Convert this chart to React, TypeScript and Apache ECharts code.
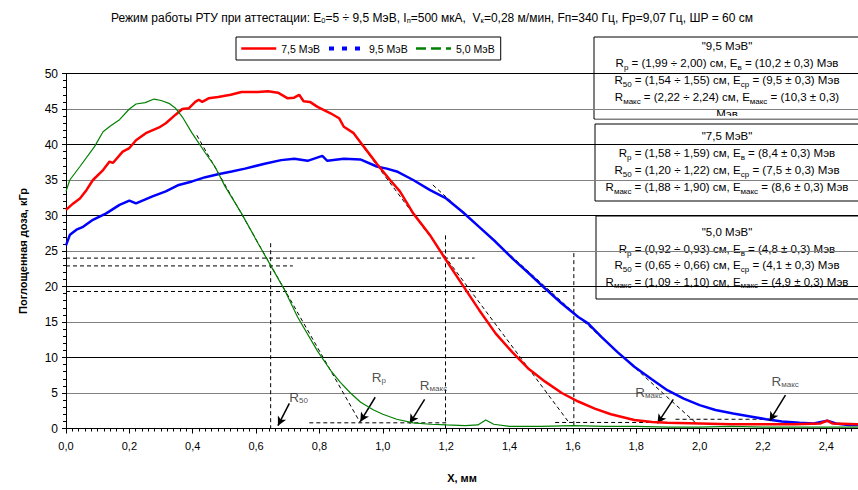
import React, { useEffect, useRef } from "react";
import * as echarts from "echarts";

const FONT = "'Liberation Sans', Arial, sans-serif";

const titleText =
  "Режим работы РТУ при аттестации: E{s|0}=5 ÷ 9,5 МэВ, I{s|п}=500 мкА,  V{s|к}=0,28 м/мин, Fп=340 Гц, Fр=9,07 Гц, ШР = 60 см";

const seriesNames = ["7,5 МэВ", "9,5 МэВ", "5,0 МэВ"];

// 7,5 MeV (red)
const red75: [number, number][] = [
  [0.0, 30.8], [0.023, 31.7], [0.044, 32.4], [0.065, 33.6], [0.085, 35.0], [0.117, 36.4],
  [0.1375, 37.6], [0.148, 37.4], [0.179, 39.0], [0.2, 39.5], [0.221, 40.6], [0.252, 41.6],
  [0.294, 42.4], [0.315, 43.0], [0.346, 44.2], [0.367, 45.0], [0.3875, 45.1], [0.408, 46.0],
  [0.419, 46.3], [0.43, 46.0], [0.45, 46.5], [0.48, 46.7], [0.52, 47.0], [0.554, 47.4],
  [0.606, 47.4], [0.6375, 47.5], [0.669, 47.3], [0.7, 46.5], [0.72, 46.6], [0.736, 47.0],
  [0.75, 46.1], [0.77, 46.0], [0.794, 45.3], [0.835, 44.4], [0.862, 43.7], [0.877, 42.5],
  [0.908, 41.6], [0.94, 39.7], [0.981, 37.3], [1.023, 35.0], [1.054, 33.4], [1.065, 32.6],
  [1.096, 30.3], [1.148, 27.3], [1.2, 23.7], [1.252, 20.2], [1.304, 16.7], [1.356, 13.4],
  [1.408, 10.8], [1.458, 8.5], [1.5125, 6.6], [1.565, 5.0], [1.617, 3.8], [1.669, 2.8],
  [1.72, 2.0], [1.794, 1.2], [1.85, 0.9], [1.898, 0.8], [2.0, 0.7], [2.1, 0.6], [2.2, 0.6],
  [2.3, 0.6], [2.38, 0.7], [2.403, 1.1], [2.42, 0.7], [2.5, 0.6],
];

// 9,5 MeV (blue)
const blue95: [number, number][] = [
  [0.0, 25.8], [0.0125, 27.3], [0.033, 28.0], [0.054, 28.4], [0.085, 29.4], [0.127, 30.3],
  [0.169, 31.5], [0.2, 32.1], [0.221, 31.7], [0.273, 32.7], [0.315, 33.4], [0.356, 34.3],
  [0.398, 34.8], [0.44, 35.4], [0.48, 35.8], [0.523, 36.2], [0.565, 36.6], [0.627, 37.3],
  [0.679, 37.8], [0.721, 38.0], [0.7625, 37.7], [0.809, 38.4], [0.825, 37.7], [0.877, 38.0],
  [0.929, 37.9], [0.981, 36.9], [1.0125, 36.6], [1.044, 36.2], [1.096, 35.0], [1.148, 33.6],
  [1.2, 32.4], [1.252, 30.5], [1.304, 28.4], [1.356, 26.3], [1.408, 24.0], [1.46, 21.9],
  [1.5125, 19.7], [1.565, 17.6], [1.617, 15.7], [1.648, 14.8], [1.69, 12.9], [1.74, 10.8],
  [1.794, 8.7], [1.85, 6.9], [1.898, 5.4], [1.95, 4.2], [2.0, 3.3], [2.05, 2.6], [2.106, 2.1],
  [2.16, 1.7], [2.21, 1.3], [2.26, 1.0], [2.315, 0.8], [2.36, 0.7], [2.403, 1.1], [2.43, 0.7],
  [2.47, 0.5], [2.5, 0.5],
];

// 5,0 MeV (green)
const green50: [number, number][] = [
  [0.0, 33.4], [0.012, 35.0], [0.044, 36.9], [0.09, 39.7], [0.117, 41.8], [0.14, 42.6],
  [0.169, 43.5], [0.2, 45.0], [0.221, 45.7], [0.25, 45.9], [0.278, 46.4], [0.3, 46.2],
  [0.325, 45.8], [0.346, 45.1], [0.367, 43.9], [0.398, 41.6], [0.44, 38.8], [0.47, 36.9],
  [0.502, 34.1], [0.554, 30.3], [0.606, 26.1], [0.648, 22.8], [0.69, 19.5], [0.731, 15.7],
  [0.794, 10.9], [0.835, 8.2], [0.866, 6.5], [0.898, 5.0], [0.93, 3.7], [0.971, 2.6],
  [1.0, 2.0], [1.044, 1.3], [1.096, 0.8], [1.15, 0.6], [1.2, 0.5], [1.26, 0.4], [1.3, 0.5],
  [1.325, 1.2], [1.35, 0.6], [1.4, 0.3], [1.5, 0.3], [1.6, 0.4], [1.7, 0.3], [1.8, 0.3],
  [1.9, 0.2], [2.0, 0.2], [2.1, 0.3], [2.2, 0.2], [2.3, 0.2], [2.4, 0.2], [2.5, 0.2],
];

// dashed construction lines (data coordinates)
const guideLines: [number, number][][] = [
  [[0, 24.0], [1.29, 24.0]],
  [[0, 22.9], [0.716, 22.9]],
  [[0, 19.3], [1.585, 19.3]],
  [[0.646, 26.1], [0.646, 0]],
  [[1.198, 27.2], [1.198, 0]],
  [[1.603, 24.7], [1.603, 0]],
  [[0.413, 41.3], [0.929, 0.8]],
  [[0.768, 0.8], [1.2, 0.8]],
  [[0.929, 40.2], [1.585, 1.0]],
  [[1.544, 0.85], [1.88, 0.85]],
  [[1.158, 34.3], [1.99, 0.7]],
  [[1.924, 1.3], [2.22, 1.3]],
];

// arrows: tail -> head
const arrows: [number, number][][] = [
  [[0.705, 3.55], [0.669, 0.4]],
  [[0.976, 4.4], [0.929, 0.96]],
  [[1.132, 4.1], [1.085, 0.73]],
  [[1.917, 4.1], [1.867, 0.73]],
  [[2.271, 4.7], [2.221, 1.06]],
];
const arrowLabelPos: [number, number][] = [
  [0.734, 4.4], [0.9875, 7.25], [1.16, 6.0], [1.84, 5.1], [2.27, 6.55],
];
const arrowLabelText = ["{r|R}{s|50}", "{r|R}{s|р}", "{r|R}{s|макс}", "{r|R}{s|макс}", "{r|R}{s|макс}"];

const boxTexts: string[][] = [
  [
    '"9,5 МэВ"',
    "R{s|р} = (1,99 ÷ 2,00) см, E{s|в} = (10,2 ± 0,3) Мэв",
    "R{s|50} = (1,54 ÷ 1,55) см, E{s|ср} = (9,5 ± 0,3) Мэв",
    "R{s|макс} = (2,22 ÷ 2,24) см, E{s|макс} = (10,3 ± 0,3)",
    "Мэв",
  ],
  [
    '"7,5 МэВ"',
    "R{s|р} = (1,58 ÷ 1,59) см, E{s|в} = (8,4 ± 0,3) Мэв",
    "R{s|50} = (1,20 ÷ 1,22) см, E{s|ср} = (7,5 ± 0,3) Мэв",
    "R{s|макс} = (1,88 ÷ 1,90) см, E{s|макс} = (8,6 ± 0,3) Мэв",
  ],
  [
    '"5,0 МэВ"',
    "R{s|р} = (0,92 ÷ 0,93) см, E{s|в} = (4,8 ± 0,3) Мэв",
    "R{s|50} = (0,65 ÷ 0,66) см, E{s|ср} = (4,1 ± 0,3) Мэв",
    "R{s|макс} = (1,09 ÷ 1,10) см, E{s|макс} = (4,9 ± 0,3) Мэв",
  ],
];
// box layout: [left, top, height, firstLineTop, lineHeight, clipFrom]
const boxLayout = [
  [594, 37, 82, 37.5, 17, 116],
  [595, 124, 77, 127.5, 17, 0],
  [596, 216, 83, 224.3, 16.4, 0],
];

export default function App() {
  const ref = useRef<HTMLDivElement>(null);
  useEffect(() => {
    if (!ref.current) return;
    const chart = echarts.init(ref.current, undefined, { renderer: "svg" });
    const subRich = { s: { fontSize: 8, fontFamily: FONT, color: "#000", verticalAlign: "bottom" } };

    const graphic: any[] = boxTexts.map((lines, i) => {
      const [bx, by, bh, ty, lh, clip] = boxLayout[i];
      const children: any[] = [
        {
          type: "rect",
          shape: { x: bx, y: by, width: 300, height: bh },
          style: { fill: "#fff", stroke: "#000", lineWidth: 1 },
        },
        {
          type: "text",
          x: 727,
          y: ty,
          style: {
            text: lines.join("\n"),
            align: "center",
            verticalAlign: "top",
            fontSize: 11.5,
            fontFamily: FONT,
            fill: "#000",
            lineHeight: lh,
            rich: subRich,
          },
        },
      ];
      if (clip) {
        children.push({
          type: "rect",
          shape: { x: bx + 1, y: clip, width: 298, height: by + bh - clip - 0.5 },
          style: { fill: "#fff" },
        });
      }
      return { type: "group", left: 0, top: 0, bounding: "raw", children };
    });

    const option: any = {
      animation: false,
      backgroundColor: "#fff",
      title: {
        text: titleText,
        left: 106,
        top: 7,
        textStyle: {
          fontSize: 12,
          fontWeight: "normal",
          color: "#000",
          fontFamily: FONT,
          rich: { s: { fontSize: 7.5, fontFamily: FONT, color: "#000", verticalAlign: "bottom" } },
        },
      },
      legend: {
        data: [
          { name: seriesNames[0], lineStyle: { type: "solid", width: 2.5 } },
          { name: seriesNames[1], lineStyle: { type: [5, 8], width: 4 } },
          { name: seriesNames[2], lineStyle: { type: [10, 5], width: 2.5 } },
        ],
        left: 236,
        top: 37,
        itemWidth: 35,
        itemHeight: 10,
        itemGap: 7,
        padding: [6, 6, 6, 4],
        borderColor: "#000",
        borderWidth: 1,
        backgroundColor: "#fff",
        itemStyle: { opacity: 0 },
        textStyle: { fontSize: 10.5, color: "#000", fontFamily: FONT },
      },
      grid: { left: 66, right: -8, top: 73.5, bottom: 61.5 },
      xAxis: {
        type: "value",
        min: 0,
        max: 2.5,
        interval: 0.2,
        name: "X, мм",
        nameLocation: "middle",
        nameGap: 44,
        nameTextStyle: { fontSize: 11, fontWeight: "bold", color: "#000", fontFamily: FONT },
        axisLine: { lineStyle: { color: "#000", width: 1 } },
        axisTick: { show: true, length: 5, lineStyle: { color: "#000" } },
        minorTick: { show: true, splitNumber: 10, length: 3, lineStyle: { color: "#000" } },
        axisLabel: {
          fontSize: 11,
          color: "#000",
          fontFamily: FONT,
          margin: 12,
          showMaxLabel: false,
          formatter: (v: number) => v.toFixed(1).replace(".", ","),
        },
        splitLine: { show: false },
      },
      yAxis: {
        type: "value",
        min: 0,
        max: 50,
        interval: 5,
        name: "Поглощенная доза, кГр",
        nameLocation: "middle",
        nameGap: 38,
        nameTextStyle: { fontSize: 11, fontWeight: "bold", color: "#000", fontFamily: FONT },
        axisLine: { show: true, lineStyle: { color: "#000", width: 1 } },
        axisTick: { show: true, length: 4, lineStyle: { color: "#000" } },
        minorTick: { show: true, splitNumber: 5, length: 3, lineStyle: { color: "#000" } },
        axisLabel: { fontSize: 12, color: "#000", fontFamily: FONT, margin: 8 },
        splitLine: { show: true, lineStyle: { color: ["#000", "#808080"], width: 1 } },
      },
      graphic,
      series: [
        ...guideLines.map((seg) => ({
          type: "line",
          data: seg,
          symbol: "none",
          silent: true,
          z: 3,
          lineStyle: { color: "#000", width: 1, type: [4, 3] },
        })),
        {
          name: seriesNames[1],
          type: "line",
          data: blue95,
          symbol: "none",
          z: 4,
          color: "#0000ff",
          lineStyle: { color: "#0000ff", width: 2.5 },
        },
        {
          name: seriesNames[0],
          type: "line",
          data: red75,
          symbol: "none",
          z: 5,
          color: "#ff0000",
          lineStyle: { color: "#ff0000", width: 2.5 },
        },
        {
          name: seriesNames[2],
          type: "line",
          data: green50,
          symbol: "none",
          z: 6,
          color: "#008000",
          lineStyle: { color: "#008000", width: 1.2 },
        },
        {
          type: "scatter",
          symbolSize: 0,
          silent: true,
          z: 7,
          data: arrowLabelPos.map((p, i) => ({
            value: p,
            label: { formatter: arrowLabelText[i] },
          })),
          label: {
            show: true,
            position: "inside",
            color: "#222",
            fontFamily: FONT,
            rich: {
              r: { fontSize: 13.5, fontFamily: FONT, color: "#222" },
              s: { fontSize: 8, fontFamily: FONT, color: "#222", verticalAlign: "bottom" },
            },
          },
          markLine: {
            silent: true,
            symbol: ["none", "arrow"],
            symbolSize: [7, 9],
            label: { show: false },
            lineStyle: { color: "#000", width: 1.5, type: "solid" },
            data: arrows.map((a) => [{ coord: a[0] }, { coord: a[1] }]),
          },
        },
      ],
    };
    chart.setOption(option);
    return () => chart.dispose();
  }, []);
  return (
    <div
      ref={ref}
      style={{ position: "fixed", left: 0, top: 0, width: 858, height: 490, background: "#fff" }}
    />
  );
}
